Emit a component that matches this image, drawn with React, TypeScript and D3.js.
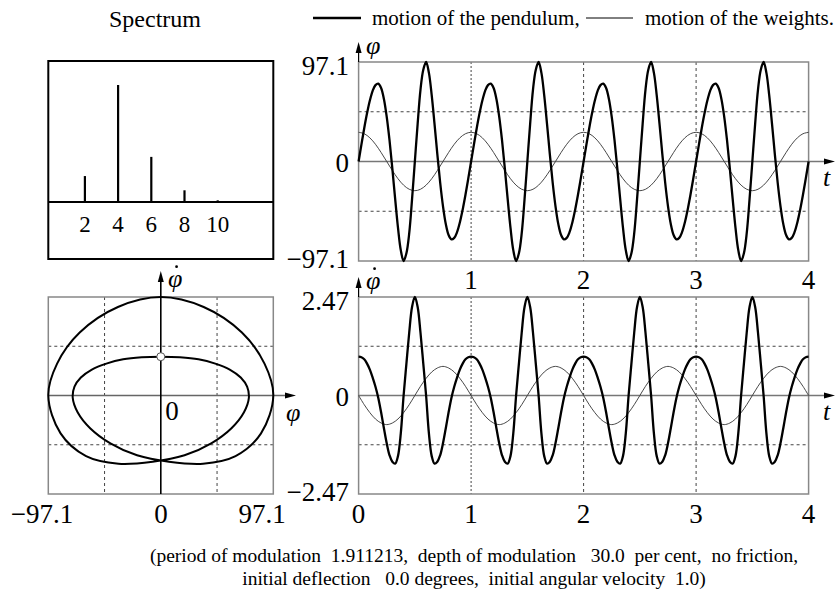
import React from "react";
import * as d3 from "d3";

// one period of the motion (t in units of the plotted period)
const cycleT = [
  0, 0.025, 0.05, 0.075, 0.1, 0.125, 0.15, 0.175, 0.2, 0.225, 0.25, 0.275, 0.3, 0.325, 0.35, 0.375, 0.4, 0.425, 0.45, 0.475,
  0.5, 0.525, 0.55, 0.575, 0.6, 0.625, 0.65, 0.675, 0.7, 0.725, 0.75, 0.775, 0.8, 0.825, 0.85, 0.875, 0.9, 0.925, 0.95, 0.975, 1,
];
const phiCycle = [
  0, 16.5, 32.5, 47, 59.5, 69, 74.5, 76, 71.8, 61, 43.5, 20.5, -7, -36.5, -64.5, -86.5, -97.1, -89.5, -70, -37,
  0, 37, 70, 89.5, 97.1, 86.5, 64.5, 36.5, 7, -20.5, -43.5, -61, -71.8, -76, -74.5, -69, -59.5, -47, -32.5, -16.5, 0,
];
const phiDotCycle = [
  0.973, 0.96, 0.91, 0.8, 0.65, 0.45, 0.22, -0.06, -0.42, -0.82, -1.2, -1.5, -1.66, -1.71, -1.52, -0.95, 0, 0.8, 1.58, 2.22,
  2.47, 2.22, 1.58, 0.8, 0, -0.95, -1.52, -1.71, -1.66, -1.5, -1.2, -0.82, -0.42, -0.06, 0.22, 0.45, 0.65, 0.8, 0.91, 0.96, 0.973,
];
const weightT = [0, 0.05, 0.1, 0.15, 0.2, 0.25, 0.3, 0.35, 0.4, 0.45, 0.5, 0.55, 0.6, 0.65, 0.7, 0.75, 0.8, 0.85, 0.9, 0.95, 1];
const weightCycle = [28.5, 27.1, 23.1, 16.8, 8.8, 0, -8.8, -16.8, -23.1, -27.1, -28.5, -27.1, -23.1, -16.8, -8.8, 0, 8.8, 16.8, 23.1, 27.1, 28.5];
const weightDotCycle = [0, -0.23, -0.43, -0.59, -0.69, -0.73, -0.69, -0.59, -0.43, -0.23, 0, 0.23, 0.43, 0.59, 0.69, 0.73, 0.69, 0.59, 0.43, 0.23, 0];
const cycles = [0, 1, 2, 3];

const harmonics = [2, 4, 6, 8, 10];
const amplitudes = [0.184, 0.83, 0.32, 0.083, 0.012];

const phiMax = 97.1;
const phiDotMax = 2.47;
const tTicks = [0, 1, 2, 3, 4];

const captionLines = [
  "(period of modulation  1.911213,  depth of modulation   30.0  per cent,  no friction,",
  "initial deflection   0.0 degrees,  initial angular velocity  1.0)",
];

const FONT = '"Liberation Serif", "Times New Roman", Times, Tinos, "Noto Serif", "DejaVu Serif", FreeSerif, "Nimbus Roman", serif';

// repeat the measured period over the 4 plotted periods
const tile = (ts: number[], vs: number[]) => {
  const out: [number, number][] = [];
  cycles.forEach(c => {
    ts.forEach((t, i) => {
      if (c > 0 && i === 0) return;
      out.push([t + c, vs[i]]);
    });
  });
  return out;
};

const Arrow = ({ x, y, dir }: { x: number; y: number; dir: "up" | "right" }) => {
  const p = dir === "up"
    ? `M${x},${y} L${x - 3},${y + 11} L${x + 3},${y + 11} Z`
    : `M${x},${y} L${x - 11},${y - 3} L${x - 11},${y + 3} Z`;
  return <path d={p} fill="#000" />;
};

const Phi = ({ x, y, dot, size = 26 }: { x: number; y: number; dot?: boolean; size?: number }) => (
  <g>
    <text x={x} y={y} style={{ fontFamily: FONT, fontStyle: "italic", fontSize: size }}>φ</text>
    {dot && <circle cx={x + size * 0.33} cy={y - size * 0.78} r={1.4} fill="#000" />}
  </g>
);

const TimePlot = ({ top, bottom, max, pend, weights, labels, yLabel }: any) => {
  const x = d3.scaleLinear().domain([0, 4]).range([358.6, 808.6]);
  const y = d3.scaleLinear().domain([-max, max]).range([bottom, top]);
  const line = d3.line<[number, number]>().x(d => x(d[0])).y(d => y(d[1])).curve(d3.curveCatmullRom);
  return (
    <g>
      {[1, 2, 3].map(t => (
        <line key={"v" + t} x1={x(t)} x2={x(t)} y1={top} y2={bottom} stroke="#444" strokeWidth={1}
          strokeDasharray={t === 1 ? "2,2" : "3,3"} />
      ))}
      {[-max / 2, max / 2].map(v => (
        <line key={"h" + v} x1={x(0)} x2={x(4)} y1={y(v)} y2={y(v)} stroke="#444" strokeWidth={1} strokeDasharray="3,3" />
      ))}
      <rect x={x(0)} y={top} width={x(4) - x(0)} height={bottom - top} fill="none" stroke="#888" strokeWidth={1.5} />
      <line x1={x(0)} x2={830} y1={y(0)} y2={y(0)} stroke="#777" strokeWidth={1.3} />
      <Arrow x={835} y={y(0)} dir="right" />
      <line x1={x(0)} x2={x(0)} y1={top} y2={top - 16} stroke="#000" strokeWidth={1.2} />
      <Arrow x={x(0)} y={top - 20} dir="up" />
      <text x={823} y={y(0) + 24} style={{ fontFamily: FONT, fontStyle: "italic", fontSize: 26 }}>t</text>
      <Phi x={366} y={top - 8} dot={yLabel === "dot"} />
      <path d={line(weights) || ""} fill="none" stroke="#333" strokeWidth={0.9} />
      <path d={line(pend) || ""} fill="none" stroke="#000" strokeWidth={2.3} strokeLinejoin="round" />
      <g style={{ fontFamily: FONT, fontSize: 27 }} textAnchor="end">
        <text x={349} y={top + 13}>{labels[0]}</text>
        <text x={349} y={y(0) + 10}>0</text>
        <text x={349} y={bottom + 7}>{labels[1]}</text>
      </g>
    </g>
  );
};

export default function App() {
  const pendPhi = tile(cycleT, phiCycle);
  const pendDot = tile(cycleT, phiDotCycle);
  const wPhi = tile(weightT, weightCycle);
  const wDot = tile(weightT, weightDotCycle);

  // spectrum
  const sx = d3.scaleLinear().domain([0, 12]).range([51.7, 250.9]);
  const sy = d3.scaleLinear().domain([0, 1]).range([202, 61]);

  // phase portrait
  const px = d3.scaleLinear().domain([-phiMax, phiMax]).range([48.3, 273.3]);
  const py = d3.scaleLinear().domain([-phiDotMax, phiDotMax]).range([494, 297]);
  const phasePts: [number, number][] = phiCycle.slice(0, -1).map((p, i) => [p, phiDotCycle[i]]);
  const phaseLine = d3.line<[number, number]>().x(d => px(d[0])).y(d => py(d[1])).curve(d3.curveCatmullRomClosed);

  const tx = d3.scaleLinear().domain([0, 4]).range([358.6, 808.6]);

  return (
    <svg width={840} height={595} style={{ position: "absolute", left: 0, top: 0, background: "#fff", fontFamily: FONT }}>
      <rect width={840} height={595} fill="#fff" />
      {/* title + legend */}
      <text x={155} y={27} textAnchor="middle" style={{ fontFamily: FONT, fontSize: 24 }}>Spectrum</text>
      <line x1={313} x2={361} y1={18} y2={18} stroke="#000" strokeWidth={2.3} />
      <text x={372} y={25} style={{ fontFamily: FONT, fontSize: 21 }}>motion of the pendulum,</text>
      <line x1={586} x2={633} y1={18} y2={18} stroke="#000" strokeWidth={1} />
      <text x={645} y={25} style={{ fontFamily: FONT, fontSize: 21 }}>motion of the weights.</text>

      {/* spectrum box */}
      <rect x={48.3} y={61} width={225} height={198} fill="none" stroke="#000" strokeWidth={2} />
      <line x1={48.3} x2={273.3} y1={sy(0)} y2={sy(0)} stroke="#000" strokeWidth={2} />
      {harmonics.map((k, i) => (
        <g key={k}>
          <line x1={sx(k)} x2={sx(k)} y1={sy(0)} y2={sy(amplitudes[i])} stroke="#000" strokeWidth={2.2} />
          <text x={sx(k)} y={232} textAnchor="middle" style={{ fontFamily: FONT, fontSize: 23 }}>{k}</text>
        </g>
      ))}

      {/* phase portrait */}
      {[-phiMax / 2, phiMax / 2].map(v => (
        <line key={"pv" + v} x1={px(v)} x2={px(v)} y1={py(phiDotMax)} y2={py(-phiDotMax)} stroke="#444" strokeDasharray="3,3" />
      ))}
      {[-phiDotMax / 2, phiDotMax / 2].map(v => (
        <line key={"ph" + v} x1={px(-phiMax)} x2={px(phiMax)} y1={py(v)} y2={py(v)} stroke="#444" strokeDasharray="3,3" />
      ))}
      <rect x={px(-phiMax)} y={py(phiDotMax)} width={px(phiMax) - px(-phiMax)} height={py(-phiDotMax) - py(phiDotMax)}
        fill="none" stroke="#888" strokeWidth={1.5} />
      <line x1={px(-phiMax)} x2={290} y1={py(0)} y2={py(0)} stroke="#666" strokeWidth={1.3} />
      <Arrow x={296} y={py(0)} dir="right" />
      <line x1={px(0)} x2={px(0)} y1={py(-phiDotMax)} y2={276} stroke="#000" strokeWidth={1.6} />
      <Arrow x={px(0)} y={271} dir="up" />
      <Phi x={168} y={287} dot />
      <Phi x={286} y={421} />
      <text x={172} y={420} textAnchor="middle" style={{ fontFamily: FONT, fontSize: 27 }}>0</text>
      <path d={phaseLine(phasePts) || ""} fill="none" stroke="#000" strokeWidth={2} />
      <circle cx={px(phiCycle[0])} cy={py(phiDotCycle[0])} r={4} fill="#fff" stroke="#555" strokeWidth={1} />
      <g style={{ fontFamily: FONT, fontSize: 27 }} textAnchor="middle">
        <text x={42} y={523}>−{phiMax}</text>
        <text x={161} y={523}>0</text>
        <text x={262} y={523}>{phiMax}</text>
      </g>

      {/* time plots */}
      <TimePlot top={62} bottom={261} max={phiMax} pend={pendPhi} weights={wPhi} labels={["97.1", "−97.1"]} yLabel="phi" />
      <TimePlot top={297} bottom={494} max={phiDotMax} pend={pendDot} weights={wDot} labels={["2.47", "−2.47"]} yLabel="dot" />
      <g style={{ fontFamily: FONT, fontSize: 27 }} textAnchor="middle">
        {tTicks.slice(1).map(t => <text key={"a" + t} x={tx(t)} y={289}>{t}</text>)}
        {tTicks.map(t => <text key={"b" + t} x={tx(t)} y={523}>{t}</text>)}
      </g>

      {/* caption */}
      <g style={{ fontFamily: FONT, fontSize: 19.5 }} textAnchor="middle">
        {captionLines.map((l, i) => (
          <text key={i} x={474} y={562 + i * 23} style={{ whiteSpace: "pre" }}>{l}</text>
        ))}
      </g>
    </svg>
  );
}
